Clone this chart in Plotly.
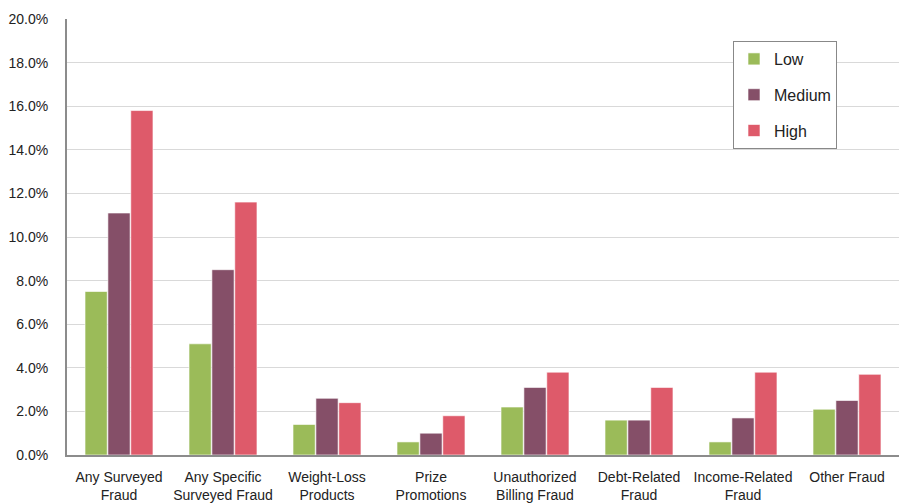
import plotly.graph_objects as go

categories = [
    "Any Surveyed<br>Fraud",
    "Any Specific<br>Surveyed Fraud",
    "Weight-Loss<br>Products",
    "Prize<br>Promotions",
    "Unauthorized<br>Billing Fraud",
    "Debt-Related<br>Fraud",
    "Income-Related<br>Fraud",
    "Other Fraud",
]
low = [7.5, 5.1, 1.4, 0.6, 2.2, 1.6, 0.6, 2.1]
medium = [11.1, 8.5, 2.6, 1.0, 3.1, 1.6, 1.7, 2.5]
high = [15.8, 11.6, 2.4, 1.8, 3.8, 3.1, 3.8, 3.7]

tick_vals = [0, 2, 4, 6, 8, 10, 12, 14, 16, 18, 20]
tick_text = [f"{v:.1f}%" for v in tick_vals]

series = [("Low", low, "#9BBB59"), ("Medium", medium, "#854F68"), ("High", high, "#DE5A6A")]

fig = go.Figure()
for name, vals, color in series:
    fig.add_trace(go.Bar(
        x=categories, y=vals, name=name, legendgroup=name,
        marker=dict(color=color, line=dict(color="rgba(255,255,255,0.6)", width=1)),
    ))

font_family = "Liberation Sans, Arial, sans-serif"
fig.update_layout(
    width=899, height=504,
    margin=dict(l=67, r=0, t=19, b=49),
    paper_bgcolor="white", plot_bgcolor="white",
    barmode="group", bargap=0.34, bargroupgap=0.03,
    font=dict(family=font_family, size=14, color="#222222"),
    legend=dict(
        x=(733 - 67) / 832, y=1 - (41 - 19) / 436, xanchor="left", yanchor="top",
        bordercolor="#888888", borderwidth=1, bgcolor="white",
        font=dict(size=16, color="#222222"),
        tracegroupgap=12, traceorder="grouped", itemwidth=30,
    ),
    xaxis=dict(
        showline=True, linecolor="#8C8C8C", linewidth=2,
        tickfont=dict(size=14), ticks="", showgrid=False,
        ticklabelstandoff=8,
    ),
    yaxis=dict(
        range=[0, 20], tickvals=tick_vals, ticktext=tick_text,
        showgrid=True, gridcolor="#D9D9D9", gridwidth=1,
        showline=True, linecolor="#8C8C8C", linewidth=2,
        ticks="", ticklabelstandoff=14, tickfont=dict(size=14),
        zeroline=False,
    ),
)

fig.write_html("out.html")
